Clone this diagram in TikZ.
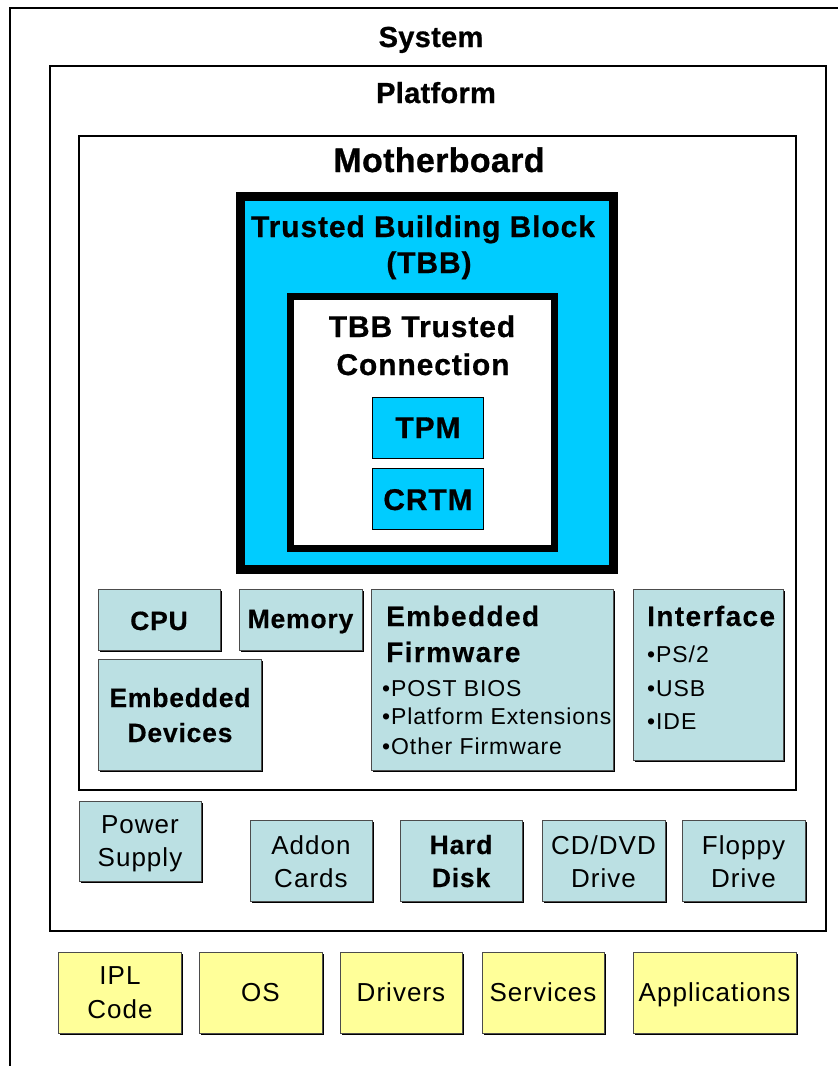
\documentclass[tikz,border=0pt]{standalone}
\usepackage{fontspec}
\setmainfont{Liberation Sans}
\newfontfamily\ttlfont[LetterSpace=1,FakeBold=0.8]{Liberation Sans}
\newfontfamily\tbbfont[LetterSpace=3,FakeBold=0.6]{Liberation Sans}
\newfontfamily\blkfont[LetterSpace=4]{Liberation Sans}
\newfontfamily\blkboldfont[LetterSpace=3,FakeBold=0.4]{Liberation Sans}
\newfontfamily\widefont[LetterSpace=5,FakeBold=0.3]{Liberation Sans}
\newfontfamily\bulfont[LetterSpace=4]{Liberation Sans}
\usetikzlibrary{shadows}
\definecolor{tbbblue}{RGB}{0,204,255}
\definecolor{partblue}{RGB}{187,224,227}
\definecolor{swyellow}{RGB}{255,255,153}
\tikzset{
  frame/.style={draw=black, line width=2.2pt, fill=white, inner sep=0pt},
  tbbframe/.style={draw=black, line width=9pt, fill=tbbblue, inner sep=0pt},
  tbcframe/.style={draw=black, line width=7pt, fill=white, inner sep=0pt},
  rootbox/.style={draw=black, line width=1pt, fill=tbbblue, inner sep=0pt},
  part/.style={draw=black!70, line width=1pt, fill=partblue, inner sep=0pt,
    drop shadow={shadow xshift=2pt, shadow yshift=-2pt, fill=black, opacity=1}},
  soft/.style={part, fill=swyellow},
  lbl/.style={anchor=base, inner sep=0pt, text=black},
  lbll/.style={anchor=base west, inner sep=0pt, text=black},
  ttl/.style={lbl, font=\ttlfont\bfseries\fontsize{29pt}{29pt}\selectfont},
  mbttl/.style={lbl, font=\ttlfont\bfseries\fontsize{34pt}{34pt}\selectfont},
  tbbttl/.style={lbl, font=\tbbfont\bfseries\fontsize{30pt}{30pt}\selectfont},
  rootttl/.style={lbl, font=\tbbfont\bfseries\fontsize{30pt}{30pt}\selectfont},
  blkbold/.style={lbl, font=\blkboldfont\bfseries\fontsize{26.5pt}{26.5pt}\selectfont},
  blkreg/.style={lbl, font=\blkfont\fontsize{26pt}{26pt}\selectfont},
  listhead/.style={lbll, font=\widefont\bfseries\fontsize{28pt}{28pt}\selectfont},
  listitem/.style={lbll, font=\bulfont\fontsize{23pt}{23pt}\selectfont},
}
\begin{document}
\begin{tikzpicture}[x=1pt, y=-1pt]
\useasboundingbox (0,0) rectangle (838,1066);
\clip (0,0) rectangle (838,1066);

% nested containers
\node[frame, minimum width=850pt, minimum height=1090pt] (system) at (435,553) {};
\node[frame, minimum width=776pt, minimum height=865pt] (platform) at (438,498.5) {};
\node[frame, minimum width=717pt, minimum height=654pt] (mobo) at (437.5,463) {};

\node[ttl] (systemlbl) at (431,47) {System};
\node[ttl] (platformlbl) at (436,103) {Platform};
\node[mbttl] (mobolbl) at (439,172) {Motherboard};

% trusted building block
\node[tbbframe, minimum width=373pt, minimum height=373pt] (tbb) at (427,383) {};
\node[tbbttl] (tbblbl1) at (423,237) {Trusted Building Block};
\node[tbbttl] (tbblbl2) at (429,273) {(TBB)};

\node[tbcframe, minimum width=264pt, minimum height=252pt] (tbc) at (422.5,422.5) {};
\node[tbbttl] (tbclbl1) at (422,337) {TBB Trusted};
\node[tbbttl] (tbclbl2) at (423,375) {Connection};

\node[rootbox, minimum width=111pt, minimum height=61pt] (tpm) at (427.5,427.5) {};
\node[rootttl] (tpmlbl) at (428,438) {TPM};
\node[rootbox, minimum width=111pt, minimum height=61pt] (crtm) at (427.5,498.5) {};
\node[rootttl] (crtmlbl) at (428,510) {CRTM};

% motherboard parts
\node[part, minimum width=122pt, minimum height=61pt] (cpu) at (159,619.5) {};
\node[blkbold] (cpulbl) at (159,630) {CPU};
\node[part, minimum width=123pt, minimum height=61pt] (mem) at (300.5,619.5) {};
\node[blkbold] (memlbl) at (300.5,628) {Memory};
\node[part, minimum width=163pt, minimum height=111pt] (emdev) at (179.5,714.5) {};
\node[blkbold] (emdevlbl1) at (180,707) {Embedded};
\node[blkbold] (emdevlbl2) at (180,742) {Devices};

\node[part, minimum width=242pt, minimum height=181pt] (emfw) at (492,679.5) {};
\node[listhead] (emfwlbl1) at (386,626) {Embedded};
\node[listhead] (emfwlbl2) at (386,662) {Firmware};
\node[listitem] (emfw1) at (382,696) {•POST BIOS};
\node[listitem] (emfw2) at (382,724) {•Platform Extensions};
\node[listitem] (emfw3) at (382,754) {•Other Firmware};

\node[part, minimum width=150pt, minimum height=171pt] (iface) at (708,674.5) {};
\node[listhead] (ifacelbl) at (647,626) {Interface};
\node[listitem] (iface1) at (647,662) {•PS/2};
\node[listitem] (iface2) at (647,696) {•USB};
\node[listitem] (iface3) at (647,729) {•IDE};

% platform parts
\node[part, minimum width=122pt, minimum height=80pt] (power) at (140,841) {};
\node[blkreg] (powerlbl1) at (140,833) {Power};
\node[blkreg] (powerlbl2) at (140,866) {Supply};
\node[part, minimum width=122pt, minimum height=81pt] (addon) at (311,860.5) {};
\node[blkreg] (addonlbl1) at (311,854) {Addon};
\node[blkreg] (addonlbl2) at (311,887) {Cards};
\node[part, minimum width=122pt, minimum height=81pt] (hdd) at (461,860.5) {};
\node[blkbold] (hddlbl1) at (461,854) {Hard};
\node[blkbold] (hddlbl2) at (461,887) {Disk};
\node[part, minimum width=123pt, minimum height=81pt] (cd) at (603.5,860.5) {};
\node[blkreg] (cdlbl1) at (603.5,854) {CD/DVD};
\node[blkreg] (cdlbl2) at (603.5,887) {Drive};
\node[part, minimum width=123pt, minimum height=81pt] (floppy) at (743.5,860.5) {};
\node[blkreg] (floppylbl1) at (743.5,854) {Floppy};
\node[blkreg] (floppylbl2) at (743.5,887) {Drive};

% system software
\node[soft, minimum width=123pt, minimum height=81pt] (ipl) at (119.5,992.5) {};
\node[blkreg] (ipllbl1) at (120,984) {IPL};
\node[blkreg] (ipllbl2) at (120,1018) {Code};
\node[soft, minimum width=123pt, minimum height=81pt] (os) at (260.5,992.5) {};
\node[blkreg] (oslbl) at (260.5,1001) {OS};
\node[soft, minimum width=122pt, minimum height=81pt] (drivers) at (401,992.5) {};
\node[blkreg] (driverslbl) at (401,1001) {Drivers};
\node[soft, minimum width=122pt, minimum height=81pt] (services) at (543,992.5) {};
\node[blkreg] (serviceslbl) at (543,1001) {Services};
\node[soft, minimum width=163pt, minimum height=81pt] (apps) at (714.5,992.5) {};
\node[blkreg] (appslbl) at (714.5,1001) {Applications};
\end{tikzpicture}
\end{document}
